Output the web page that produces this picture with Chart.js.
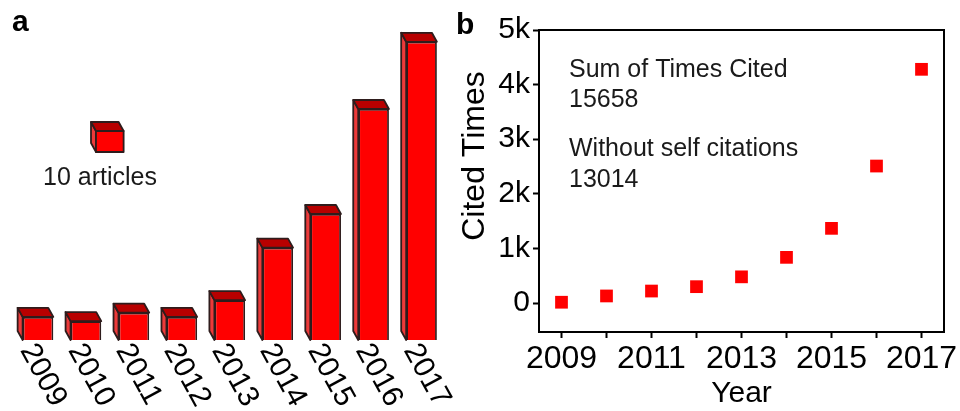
<!DOCTYPE html>
<html lang="en">
<head>
<meta charset="UTF-8">
<title>Articles and citations per year</title>
<script src="https://cdn.jsdelivr.net/npm/chart.js"></script>
<style>
  body { margin: 0; background: #fff; }
  #wrap { position: relative; width: 960px; height: 411px; overflow: hidden; }
  #chartA { position: absolute; left: 0; top: 0; }
  #chartB { position: absolute; left: 460px; top: 0; }
  .tag { position: absolute; font: bold 30px "Liberation Sans", Arial, sans-serif; line-height: 30px; color: #000; }
</style>
</head>
<body>
<div id="wrap">
  <canvas id="chartA" width="460" height="411"></canvas>
  <canvas id="chartB" width="500" height="411"></canvas>
  <div class="tag" style="left:12px; top:6px;">a</div>
  <div class="tag" style="left:456px; top:9px;">b</div>
</div>

<script>
// articles published per year (panel a)
const years = ['2009', '2010', '2011', '2012', '2013', '2014', '2015', '2016', '2017'];
const articles = [11, 9, 13, 11, 19, 44, 60, 110, 142];
const legendArticles = 10;

// citations per year (panel b)
const citeYears = [2009, 2010, 2011, 2012, 2013, 2014, 2015, 2016, 2017];
const citedTimes = [15, 130, 220, 300, 480, 837, 1368, 2509, 4280];
const citeTicks = [0, 1000, 2000, 3000, 4000, 5000];
const yearTicks = [2009, 2010, 2011, 2012, 2013, 2014, 2015, 2016, 2017];
const yearLabels = [2009, 2011, 2013, 2015, 2017];
const notes = ['Sum of Times Cited', '15658', 'Without self citations', '13014'];

const FONT = '"Liberation Sans", Arial, sans-serif';
Chart.defaults.font.family = FONT;
Chart.defaults.color = '#000';

// depth of the fake 3d boxes (up and to the left)
const DX = -5, DY = -9;
const EDGE = '#2e1c1c';

function drawBox(ctx, left, right, top, bottom, withFront) {
  ctx.save();
  ctx.lineJoin = 'round';
  ctx.lineWidth = 1.8;
  ctx.strokeStyle = EDGE;
  // left side
  ctx.beginPath();
  ctx.moveTo(left, top);
  ctx.lineTo(left + DX, top + DY);
  ctx.lineTo(left + DX, bottom + DY);
  ctx.lineTo(left, bottom);
  ctx.closePath();
  ctx.fillStyle = '#ec3a3a';
  ctx.fill();
  ctx.stroke();
  // top
  ctx.beginPath();
  ctx.moveTo(left, top);
  ctx.lineTo(left + DX, top + DY);
  ctx.lineTo(right + DX, top + DY);
  ctx.lineTo(right, top);
  ctx.closePath();
  ctx.fillStyle = '#b80000';
  ctx.fill();
  ctx.stroke();
  if (withFront) {
    ctx.fillStyle = '#ff0000';
    ctx.fillRect(left, top, right - left, bottom - top);
    ctx.strokeRect(left, top, right - left, bottom - top);
  }
  ctx.restore();
}

const boxes3d = {
  id: 'boxes3d',
  afterDatasetsDraw(chart) {
    const ctx = chart.ctx;
    const meta = chart.getDatasetMeta(0);
    meta.data.forEach(bar => {
      const p = bar.getProps(['x', 'y', 'base', 'width'], true);
      drawBox(ctx, p.x - p.width / 2, p.x + p.width / 2, p.y, p.base, false);
    });

    // key box: one box = 10 articles
    const ys = chart.scales.y;
    const h = ys.getPixelForValue(0) - ys.getPixelForValue(legendArticles);
    const w = meta.data[0].width;
    drawBox(ctx, 96, 96 + w * 0.9, 131, 131 + h, true);
    ctx.save();
    ctx.font = '25px ' + FONT;
    ctx.fillStyle = '#1a1a1a';
    ctx.textAlign = 'center';
    ctx.textBaseline = 'alphabetic';
    ctx.fillText(legendArticles + ' articles', 100, 185);
    ctx.restore();
  },
  afterDraw(chart) {
    // year labels slanting down to the right under each bar
    const ctx = chart.ctx;
    const xs = chart.scales.x;
    const base = chart.scales.y.getPixelForValue(0);
    ctx.save();
    ctx.font = '30px ' + FONT;
    ctx.fillStyle = '#000';
    ctx.textAlign = 'left';
    ctx.textBaseline = 'middle';
    years.forEach((y, i) => {
      ctx.save();
      ctx.translate(xs.getPixelForValue(i) - 11, base + 6);
      ctx.rotate(Math.PI * 0.34);
      ctx.fillText(y, 0, 0);
      ctx.restore();
    });
    ctx.restore();
  }
};

new Chart(document.getElementById('chartA'), {
  type: 'bar',
  data: {
    labels: years,
    datasets: [{
      label: 'Articles',
      data: articles,
      backgroundColor: '#ff0000',
      borderColor: EDGE,
      borderWidth: 1.8,
      barPercentage: 0.64,
      categoryPercentage: 1
    }]
  },
  options: {
    responsive: false,
    animation: false,
    events: [],
    layout: { padding: { left: 14, right: 14.5, top: 25, bottom: 71 } },
    plugins: { legend: { display: false }, tooltip: { enabled: false } },
    scales: {
      x: { display: false },
      y: { display: false, min: 0, max: 150 }
    }
  },
  plugins: [boxes3d]
});

// closed frame, axis title and the notes inside panel b
const frameNotes = {
  id: 'frameNotes',
  afterDraw(chart) {
    const ctx = chart.ctx;
    const a = chart.chartArea;
    ctx.save();
    ctx.strokeStyle = '#000';
    ctx.lineWidth = 2;
    ctx.strokeRect(a.left, a.top, a.right - a.left, a.bottom - a.top);

    ctx.fillStyle = '#000';
    ctx.font = '32px ' + FONT;
    ctx.textAlign = 'center';
    ctx.textBaseline = 'alphabetic';
    ctx.save();
    ctx.translate(24, 156);
    ctx.rotate(-Math.PI / 2);
    ctx.fillText('Cited Times', 0, 0);
    ctx.restore();

    ctx.fillStyle = '#1a1a1a';
    ctx.font = '25px ' + FONT;
    ctx.textAlign = 'left';
    const baselines = [77, 107, 156, 187];
    notes.forEach((t, i) => ctx.fillText(t, a.left + 30, baselines[i]));
    ctx.restore();
  }
};

new Chart(document.getElementById('chartB'), {
  type: 'scatter',
  data: {
    datasets: [{
      label: 'Cited Times',
      data: citeYears.map((x, i) => ({ x: x, y: citedTimes[i] })),
      backgroundColor: '#ff0000',
      borderWidth: 0,
      pointStyle: 'rect',
      pointRadius: 9,
      pointHoverRadius: 9
    }]
  },
  options: {
    responsive: false,
    animation: false,
    events: [],
    layout: { padding: { left: 0, right: 16, top: 30, bottom: 0 } },
    plugins: { legend: { display: false }, tooltip: { enabled: false } },
    scales: {
      x: {
        type: 'linear',
        min: 2008.5,
        max: 2017.5,
        afterBuildTicks: s => { s.ticks = yearTicks.map(v => ({ value: v })); },
        afterFit: s => { s.height = 79; },
        ticks: {
          autoSkip: false,
          maxRotation: 0,
          padding: 2,
          font: { size: 32 },
          callback: v => yearLabels.includes(v) ? String(v) : ''
        },
        grid: { drawOnChartArea: false, tickLength: 6, tickColor: '#000', tickWidth: 2 },
        border: { display: true, color: '#000', width: 2 },
        title: {
          display: true,
          text: 'Year',
          font: { size: 30, lineHeight: 1 },
          padding: { top: 0, bottom: 2 }
        }
      },
      y: {
        min: -530,
        max: 5000,
        afterBuildTicks: s => { s.ticks = citeTicks.map(v => ({ value: v })); },
        afterFit: s => { s.width = 79; },
        ticks: {
          padding: 3,
          font: { size: 30 },
          callback: v => v === 0 ? '0' : (v / 1000) + 'k'
        },
        grid: { drawOnChartArea: false, tickLength: 6, tickColor: '#000', tickWidth: 2 },
        border: { display: true, color: '#000', width: 2 }
      }
    }
  },
  plugins: [frameNotes]
});
</script>
</body>
</html>
